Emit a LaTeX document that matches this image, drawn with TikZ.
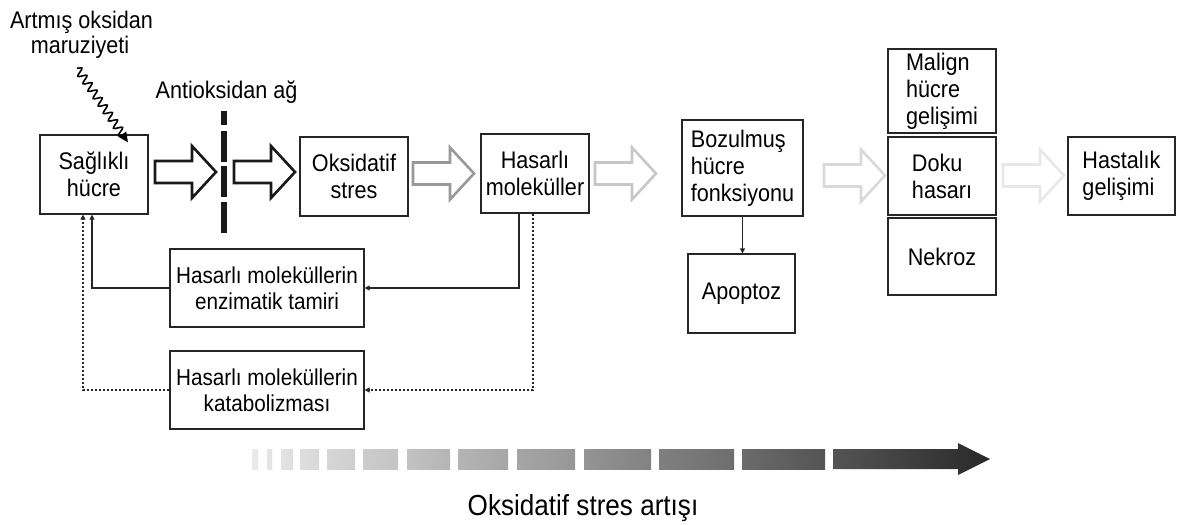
\documentclass[tikz,border=0pt]{standalone}
\usepackage{fontspec}
\setmainfont[FakeStretch=0.9]{Liberation Sans}
\usetikzlibrary{arrows.meta,decorations.pathmorphing,calc}
\newcommand\hollowarrow[3]{%
  \draw[line width=2.6pt, draw=#3, fill=white, line join=miter, miter limit=10]
    (#1,#2-11) -- (#1+37,#2-11) -- (#1+37,#2-26) -- (#1+61,#2)
    -- (#1+37,#2+26) -- (#1+37,#2+11) -- (#1,#2+11) -- cycle;}
\begin{document}
\begin{tikzpicture}[x=1pt,y=-1pt,
  box/.style={draw=black!85, line width=1.2pt, inner sep=1pt,
    font=\fontsize{24}{27}\selectfont, align=center},
  conn/.style={draw=black!85, line width=1.2pt, -{Triangle[length=5pt,width=5pt]}},
  dconn/.style={conn, dash pattern=on 2.5pt off 1.5pt},
  lbl/.style={font=\fontsize{24}{27}\selectfont, anchor=base, inner sep=0pt},
  wave/.style={line width=1.6pt, decorate,
    decoration={snake, segment length=9pt, amplitude=4pt, post length=7pt},
    -{Triangle[length=10pt,width=9pt]}}]
\useasboundingbox (0,0) rectangle (1187,525);

% boxes
\node[box, minimum width=108pt, minimum height=79pt] (healthy) at (94,174.5) {Sağlıklı\\hücre};
\node[box, minimum width=108pt, minimum height=79pt] (oks) at (354,176.5) {Oksidatif\\stres};
\node[box, minimum width=108pt, minimum height=79pt] (hm) at (535,173.5) {Hasarlı\\moleküller};
\node[box, align=left, minimum width=121pt, minimum height=96pt] (boz) at (742.5,168) {Bozulmuş\\hücre\\fonksiyonu};
\node[box, minimum width=107pt, minimum height=79pt] (apop) at (741.5,293.5) {Apoptoz};
\node[box, align=left, minimum width=108pt, minimum height=84pt] (malign) at (942,91) {Malign\\hücre\\gelişimi};
\node[box, align=left, minimum width=108pt, minimum height=78pt] (doku) at (942,176) {Doku\\hasarı};
\node[box, minimum width=108pt, minimum height=77pt] (nekroz) at (942,256.5) {Nekroz};
\node[box, align=left, minimum width=107pt, minimum height=78pt] (hast) at (1121.5,176) {Hastalık\\gelişimi};
\node[box, font=\fontsize{23}{26}\selectfont, minimum width=194pt, minimum height=78pt] (enz) at (267,288) {Hasarlı moleküllerin\\enzimatik tamiri};
\node[box, font=\fontsize{23}{26}\selectfont, minimum width=194pt, minimum height=78pt] (kat) at (267,390) {Hasarlı moleküllerin\\katabolizması};

% texts
\node[lbl] (exp1) at (81.5,28) {Artmış oksidan};
\node[lbl] (exp2) at (80,53) {maruziyeti};
\node[lbl] (anti) at (226.5,98) {Antioksidan ağ};
\node[font=\fontsize{29}{32}\selectfont, anchor=base, inner sep=0pt] (trend) at (583,515) {Oksidatif stres artışı};

% wavy exposure arrow
\coordinate (wS) at (77,68);
\coordinate (wE) at ($(healthy.north)+(34,8)$);
\draw[wave] (wS) -- (wE);

% antioxidant barrier
\fill[black!90] (221,111) rectangle (227,125);
\fill[black!90] (221,131) rectangle (227,162);
\fill[black!90] (221,166) rectangle (227,197);
\fill[black!90] (221,202) rectangle (227,233);

% hollow arrows
\hollowarrow{155}{172}{black!90}
\hollowarrow{234}{172}{black!90}
\hollowarrow{413}{173.5}{black!40}
\hollowarrow{595}{173.5}{black!22}
\hollowarrow{824}{175.5}{black!15}
\hollowarrow{1003}{175.5}{black!9}

% connectors
\coordinate (hmA) at ($(hm.south)+(-16,0)$);
\coordinate (hmB) at ($(hm.south)+(-2,0)$);
\coordinate (hA) at ($(healthy.south)+(-2,0)$);
\coordinate (hB) at ($(healthy.south)+(-11,0)$);
\draw[conn] (hmA) |- (enz.east);
\draw[conn] (enz.west) -| (hA);
\draw[dconn] (hmB) |- (kat.east);
\draw[dconn] (kat.west) -| (hB);
\draw[conn] (boz.south) -- (boz.south |- apop.north);

% gradient bar
\foreach \a/\b in {252/258,267/272,281/293,300/319,327/355,363/398,407/450,458/508,517/575,584/651,659/734,742/825}{
  \pgfmathtruncatemacro\ga{92-(\a-252)/738*75}
  \pgfmathtruncatemacro\gb{92-(\b-252)/738*75}
  \shade[left color=white!\ga!black, right color=white!\gb!black] (\a,449) rectangle (\b,469);
}
\shade[left color=white!33!black, right color=white!16!black]
  (833,449) -- (958,449) -- (958,443) -- (990,459) -- (958,475) -- (958,469) -- (833,469) -- cycle;
\end{tikzpicture}
\end{document}
